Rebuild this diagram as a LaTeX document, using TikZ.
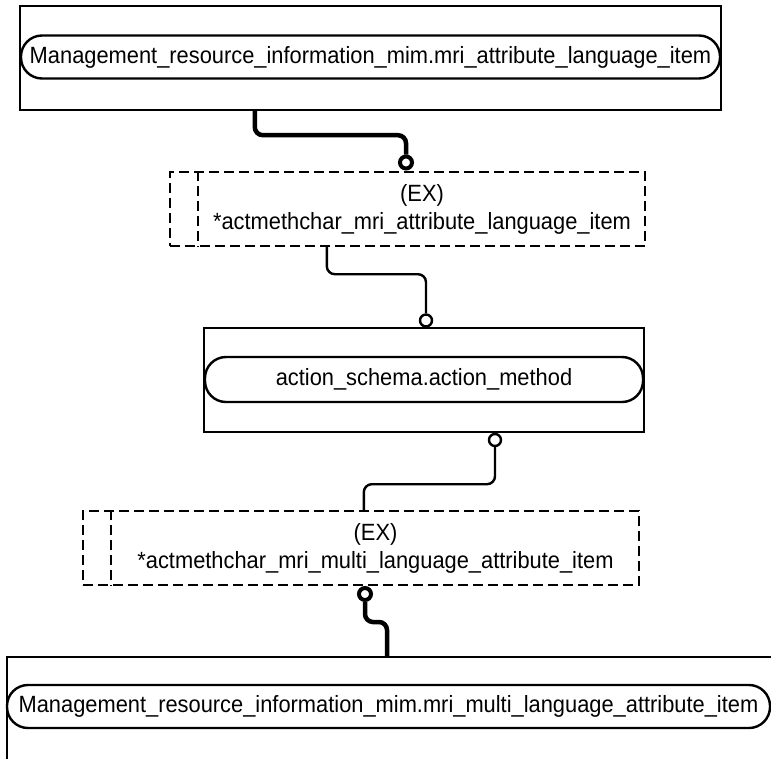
\documentclass[tikz,border=0pt]{standalone}
\usepackage{fontspec}
\setmainfont[FakeStretch=0.93]{Liberation Sans}
\newcommand\lblfont{\fontsize{23.5}{28}\selectfont}
\begin{document}
\begin{tikzpicture}[x=1pt,y=-1pt,
  entbox/.style={draw,line width=2.4pt,inner sep=0pt},
  pill/.style={draw,line width=2.4pt,rounded corners=21pt,inner sep=0pt,font=\lblfont},
  exbox/.style={draw,line width=2.4pt,dash pattern=on 10pt off 5pt,inner sep=0pt},
  exline/.style={line width=2.4pt,dash pattern=on 10pt off 5pt},
  thickconn/.style={line width=4.5pt,rounded corners=8pt},
  thinconn/.style={line width=2.4pt,rounded corners=8pt},
  ringthick/.style={circle,draw,fill=white,line width=4pt,minimum size=12pt,inner sep=0pt},
  ringthin/.style={circle,draw,fill=white,line width=2.4pt,minimum size=12pt,inner sep=0pt},
  lbl/.style={font=\lblfont,align=center,inner sep=0pt}
]
\useasboundingbox (0,0) rectangle (771,758);
\clip (0,0) rectangle (771,758);

% upper entity
\node[entbox,minimum width=701pt,minimum height=104pt] (topent) at (370.5,58) {};
\node[pill,minimum width=699pt,minimum height=43pt] (toppill) at (370.5,57)
  {Management\_resource\_information\_mim.mri\_attribute\_language\_item};

% first extension box
\node[exbox,minimum width=475pt,minimum height=74pt] (ex1) at (407.5,209) {};
\draw[exline] ([xshift=29pt]ex1.north west) -- ([xshift=29pt]ex1.south west);
\node[lbl] (ex1txt) at (422,209) {(EX)\\*actmethchar\_mri\_attribute\_language\_item};

% middle entity
\node[entbox,minimum width=440pt,minimum height=104pt] (mident) at (424,380) {};
\node[pill,minimum width=438pt,minimum height=45pt] (midpill) at (424,379.5)
  {action\_schema.action\_method};

% second extension box
\node[exbox,minimum width=556pt,minimum height=74pt] (ex2) at (361,548) {};
\draw[exline] ([xshift=29pt]ex2.north west) -- ([xshift=29pt]ex2.south west);
\node[lbl] (ex2txt) at (375.5,548) {(EX)\\*actmethchar\_mri\_multi\_language\_attribute\_item};

% lower entity
\node[entbox,minimum width=800pt,minimum height=150pt,anchor=north west] (botent) at (6,656) {};
\node[pill,minimum width=763pt,minimum height=43pt] (botpill) at (388.5,706.5)
  {Management\_resource\_information\_mim.mri\_multi\_language\_attribute\_item};

% relationship end rings
\node[ringthick] (o1) at (406,162.5) {};
\node[ringthin] (o2) at (426,320.5) {};
\node[ringthin] (o3) at (495,440) {};
\node[ringthick] (o4) at (365,594) {};

% relationship lines
\draw[thickconn] ([xshift=236pt]topent.south west) -- ++(0,24) -| (o1.north);
\draw[thinconn] ([xshift=158pt]ex1.south west) -- ++(0,27) -| (o2.north);
\draw[thinconn] (o3.south) -- ++(0,37) -| ([xshift=282pt]ex2.north west);
\draw[thickconn] (o4.south) -- ++(0,20) -| ([xshift=381pt]botent.north west);
\end{tikzpicture}
\end{document}
